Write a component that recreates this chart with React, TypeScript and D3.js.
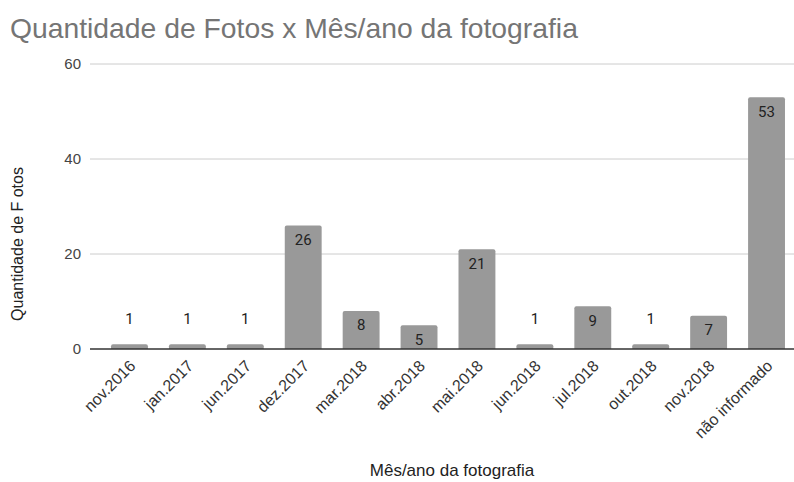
import React from 'react';
import * as d3 from 'd3';

const categories = ['nov.2016', 'jan.2017', 'jun.2017', 'dez.2017', 'mar.2018', 'abr.2018', 'mai.2018', 'jun.2018', 'jul.2018', 'out.2018', 'nov.2018', 'não informado'];
const values = [1, 1, 1, 26, 8, 5, 21, 1, 9, 1, 7, 53];
const yTicks = [0, 20, 40, 60];

const W = 794;
const H = 482;
const font = 'Arial, "Liberation Sans", sans-serif';

export default function App() {
  const x = d3.scaleBand<string>()
    .domain(categories)
    .range([90, 806])
    .paddingInner(0.363)
    .paddingOuter(0.363);

  const y = d3.scaleLinear()
    .domain([0, 60])
    .range([349, 64]);

  return (
    <svg width={W} height={H} style={{ position: 'absolute', left: 0, top: 0, background: '#fff' }}>
      <text x={10} y={38} fontFamily={font} fontSize={28.3} fill="#757575">
        Quantidade de Fotos x Mês/ano da fotografia
      </text>

      {yTicks.map(t => (
        <g key={t}>
          {t !== 0 && <line x1={90} x2={794} y1={y(t)} y2={y(t)} stroke="#cccccc" strokeWidth={1} />}
          <text x={81} y={y(t)} dy="0.35em" textAnchor="end" fontFamily={font} fontSize={15} fill="#444">
            {t}
          </text>
        </g>
      ))}

      {categories.map((c, i) => {
        const v = values[i];
        const bx = x(c)!;
        const bw = x.bandwidth();
        const top = y(v);
        const h = y(0) - top;
        const inside = h > 20;
        const cx = bx + bw / 2;
        return (
          <g key={c}>
            <path
              d={`M${bx},${y(0)} V${top + 2} Q${bx},${top} ${bx + 2},${top} H${bx + bw - 2} Q${bx + bw},${top} ${bx + bw},${top + 2} V${y(0)} Z`}
              fill="#999999"
            />
            <text
              x={cx}
              y={inside ? top + 14 : top - 26}
              dy="0.35em"
              textAnchor="middle"
              fontFamily="Roboto, sans-serif"
              fontSize={15}
              fill="#222"
            >
              {v}
            </text>
            <text
              transform={`translate(${cx + 3},${363}) rotate(-45)`}
              textAnchor="end"
              dy="0.35em"
              fontFamily={font}
              fontSize={16}
              fill="#333"
            >
              {c}
            </text>
          </g>
        );
      })}

      <line x1={90} x2={794} y1={y(0)} y2={y(0)} stroke="#333" strokeWidth={1.5} />

      <text x={452} y={476} textAnchor="middle" fontFamily={font} fontSize={17} fill="#222">
        Mês/ano da fotografia
      </text>
      <text
        transform={`translate(23,${244}) rotate(-90)`}
        textAnchor="middle"
        fontFamily={font}
        fontSize={16}
        fill="#222"
      >
        Quantidade de F otos
      </text>
    </svg>
  );
}
